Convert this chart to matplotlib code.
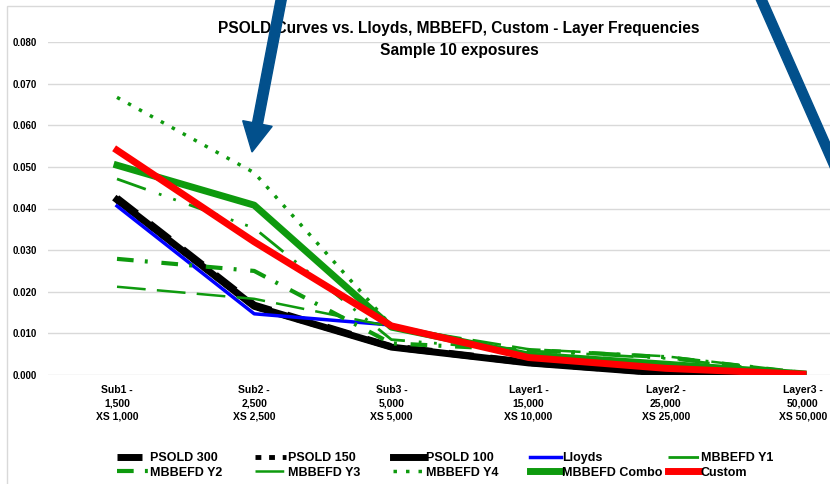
import matplotlib
matplotlib.use("Agg")
import matplotlib.pyplot as plt
from matplotlib.patches import FancyArrow, Rectangle
from matplotlib.transforms import IdentityTransform

# layers on the x axis
layers = ["Sub1 -\n1,500\nXS 1,000", "Sub2 -\n2,500\nXS 2,500", "Sub3 -\n5,000\nXS 5,000",
          "Layer1 -\n15,000\nXS 10,000", "Layer2 -\n25,000\nXS 25,000", "Layer3 -\n50,000\nXS 50,000"]

# layer frequencies
psold_300 = [0.0425, 0.0168, 0.0068, 0.0030, 0.0005, 0.0000]
psold_150 = [0.0418, 0.0163, 0.0066, 0.0029, 0.0005, 0.0000]
psold_100 = [0.0421, 0.0165, 0.0067, 0.0029, 0.0004, 0.0000]
lloyds = [0.0406, 0.0147, 0.0120, 0.0040, 0.0015, 0.0001]
mbbefd_y1 = [0.0471, 0.0353, 0.0085, 0.0058, 0.0040, 0.0004]
mbbefd_y2 = [0.0279, 0.0250, 0.0076, 0.0060, 0.0043, 0.0005]
mbbefd_y3 = [0.0212, 0.0183, 0.0116, 0.0062, 0.0045, 0.0006]
mbbefd_y4 = [0.0667, 0.0486, 0.0118, 0.0045, 0.0024, 0.0003]
mbbefd_combo = [0.0504, 0.0408, 0.0115, 0.0048, 0.0026, 0.0003]
custom = [0.0540, 0.0320, 0.0118, 0.0042, 0.0016, 0.0002]

font = ['Liberation Sans', 'DejaVu Sans']
green = '#0E9A0E'

fig = plt.figure(figsize=(8.3, 4.84), dpi=100)
ax = fig.add_axes([48.4 / 830, 109 / 484, 823.2 / 830, 333 / 484])

x = list(range(len(layers)))
series = [
    ("PSOLD 300", psold_300, dict(color='black', lw=5, ls=(0, (3.6, 2.4)))),
    ("PSOLD 150", psold_150, dict(color='black', lw=3.5, ls=(0, (1.2, 1.6)))),
    ("PSOLD 100", psold_100, dict(color='black', lw=5)),
    ("Lloyds", lloyds, dict(color='#0000FF', lw=2.5)),
    ("MBBEFD Y1", mbbefd_y1, dict(color=green, lw=2, ls=(0, (11, 5, 1, 4.5, 1, 5)))),
    ("MBBEFD Y2", mbbefd_y2, dict(color=green, lw=3, ls=(0, (4, 2.7, 0.7, 3.3)))),
    ("MBBEFD Y3", mbbefd_y3, dict(color=green, lw=1.8, ls=(0, (11.5, 4.5)))),
    ("MBBEFD Y4", mbbefd_y4, dict(color=green, lw=2.5, ls=(0, (1, 2.6)))),
    ("MBBEFD Combo", mbbefd_combo, dict(color=green, lw=5)),
    ("Custom", custom, dict(color='#FF0000', lw=5)),
]
lines = {}
for name, vals, style in series:
    lines[name], = ax.plot(x, vals, label=name, **style)

ax.set_xlim(-0.5, len(layers) - 0.5)
ax.set_ylim(0, 0.08)
ax.set_yticks([i / 100 for i in range(9)])
ax.set_yticklabels(["%.3f" % (i / 100) for i in range(9)],
                   fontsize=7, fontweight='bold', family=font)
ax.set_xticks(x)
ax.set_xticklabels(layers, fontsize=7.5, fontweight='bold', family=font, linespacing=1.45)
ax.tick_params(axis='both', length=0)
ax.tick_params(axis='y', pad=8)
ax.tick_params(axis='x', pad=7)
ax.grid(axis='y', color='#D9D9D9', lw=1)
ax.set_axisbelow(True)
for s in ax.spines.values():
    s.set_visible(False)

fig.text(459 / 830, 1 - 28 / 484, "PSOLD Curves vs. Lloyds, MBBEFD, Custom - Layer Frequencies",
         ha='center', va='center', fontsize=11.2, fontweight='bold', family=font)
fig.text(459 / 830, 1 - 51 / 484, "Sample 10 exposures",
         ha='center', va='center', fontsize=11.2, fontweight='bold', family=font)

# legend, one block per column so the columns sit at fixed places
columns = [("PSOLD 300", "MBBEFD Y2"), ("PSOLD 150", "MBBEFD Y3"), ("PSOLD 100", "MBBEFD Y4"),
           ("Lloyds", "MBBEFD Combo"), ("MBBEFD Y1", "Custom")]
col_x = [117, 255, 393, 530, 668]
for cx, names in zip(col_x, columns):
    fig.legend([lines[n] for n in names], names, loc='center left',
               bbox_to_anchor=(cx / 830, 18.5 / 484), frameon=False, borderpad=0,
               borderaxespad=0, handlelength=2.5, handletextpad=0.1, labelspacing=0.2,
               prop=dict(family=font, weight='bold', size=9))

# outer chart border
fig.add_artist(Rectangle((7, -10), 900, 478 + 10, transform=IdentityTransform(),
                         fill=False, edgecolor='#D9D9D9', lw=1))

# the two blue arrows drawn over the chart
arrow_color = '#02508C'
fig.add_artist(FancyArrow(284, 484 + 15, 252 - 284, 332 - 499, width=10, head_width=30,
                          head_length=29, length_includes_head=True, color=arrow_color,
                          transform=IdentityTransform(), zorder=10))
fig.add_artist(FancyArrow(758, 484 + 8, 900 - 758, 170 - 492, width=9.5, head_width=30,
                          head_length=29, length_includes_head=True, color=arrow_color,
                          transform=IdentityTransform(), zorder=10))

fig.savefig("out.png", dpi=100)
